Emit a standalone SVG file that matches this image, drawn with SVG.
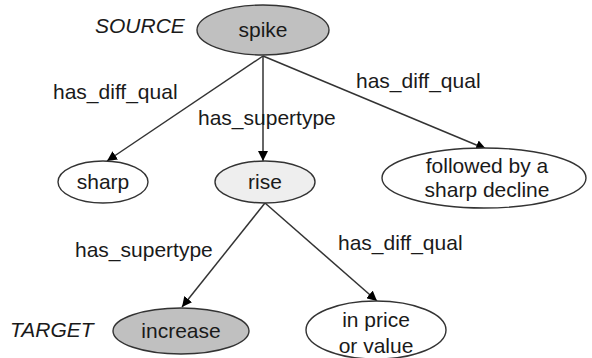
<svg xmlns="http://www.w3.org/2000/svg" width="592" height="358" viewBox="0 0 592 358">
<style>
text{font-family:"Liberation Sans",Arial,sans-serif;font-size:21px;fill:#1a1a1a}
.c{text-anchor:middle}
.i{font-style:italic}
.n{stroke:#333;stroke-width:1.4}
.dark{fill:#c0c0c0}
.light{fill:#eeeeee}
.white{fill:#fff}
.e{stroke:#333;stroke-width:1.5;fill:none;marker-end:url(#ah)}
</style>
<defs>
<marker id="ah" viewBox="0 0 10 10" refX="10" refY="5" markerWidth="10" markerHeight="10" markerUnits="userSpaceOnUse" orient="auto">
<path d="M0,0 L10,5 L0,10 z" fill="#000"/>
</marker>
</defs>
<rect width="592" height="358" fill="#fff"/>
<g id="connectors">
<line class="e" x1="263" y1="56" x2="107" y2="161"/>
<line class="e" x1="263" y1="56" x2="263" y2="161"/>
<line class="e" x1="263" y1="56" x2="486" y2="149"/>
<line class="e" x1="265" y1="203" x2="182" y2="307"/>
<line class="e" x1="265" y1="203" x2="377" y2="301"/>
<text x="53" y="99">has_diff_qual</text>
<text x="198" y="125">has_supertype</text>
<text x="356" y="88">has_diff_qual</text>
<text x="75" y="257">has_supertype</text>
<text x="338" y="250">has_diff_qual</text>
</g>
<text class="i" x="95" y="33">SOURCE</text>
<text class="i" x="10" y="337">TARGET</text>
<g id="spike">
<ellipse class="n dark" cx="263" cy="30" rx="66" ry="25"/>
<text class="c" x="263" y="37">spike</text>
</g>
<g id="sharp">
<ellipse class="n white" cx="103" cy="182" rx="45" ry="21"/>
<text class="c" x="103" y="189">sharp</text>
</g>
<g id="rise">
<ellipse class="n light" cx="265" cy="182" rx="50" ry="21"/>
<text class="c" x="265" y="189">rise</text>
</g>
<g id="followed">
<ellipse class="n white" cx="484" cy="178" rx="102" ry="30"/>
<text class="c" x="487" y="173">followed by a</text>
<text class="c" x="487" y="197">sharp decline</text>
</g>
<g id="increase">
<ellipse class="n dark" cx="181" cy="331" rx="68" ry="23"/>
<text class="c" x="181" y="338">increase</text>
</g>
<g id="inprice">
<ellipse class="n white" cx="376" cy="330" rx="70" ry="29"/>
<text class="c" x="376" y="327">in price</text>
<text class="c" x="376" y="353">or value</text>
</g>
</svg>
